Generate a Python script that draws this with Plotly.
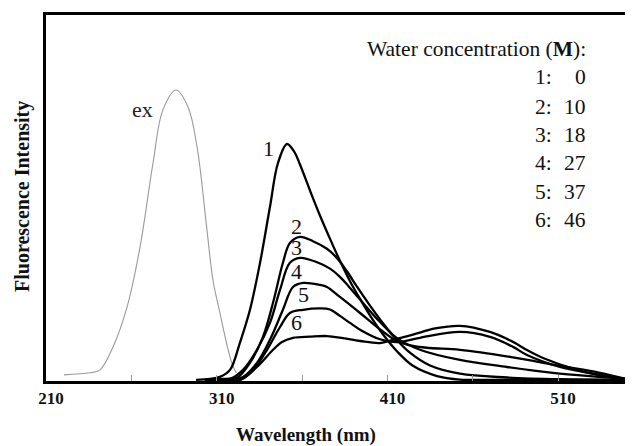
import plotly.graph_objects as go

# Excitation spectrum (gray)
ex_wl = [220.5, 235.8, 241.6, 249.3, 257.5, 265.1, 272.7, 278.5, 286.2, 293.2, 298.5, 304.3, 307.8, 311.9, 316.0, 319.0, 321.5]
ex_int = [2.4, 3.1, 4.1, 12.0, 25.7, 46.2, 75.0, 93.2, 100.0, 94.2, 80.5, 52.1, 34.9, 23.6, 12.7, 6.2, 3.0]

# Emission spectra 1-6
wl1 = [297.9, 306.1, 311.9, 317.8, 323.6, 329.5, 335.4, 341.2, 345.9, 351.2, 355.3, 358.8, 364.7, 370.5, 376.4, 382.2, 388.1, 393.9, 399.8, 407.4, 415.6, 425.0, 439.1, 452.5, 476.0, 549.8]
em1 = [0.7, 1.0, 1.7, 4.1, 13.4, 24.7, 40.8, 59.9, 75.0, 81.5, 79.0, 74.5, 65.5, 57.0, 49.0, 41.5, 34.5, 28.5, 22.8, 16.3, 10.5, 5.5, 2.0, 0.8, 0.7, 0.7]

wl2 = [303.1, 313.7, 321.9, 329.5, 337.1, 343.0, 348.8, 352.9, 358.8, 366.4, 374.6, 380.5, 386.3, 392.2, 399.0, 405.7, 413.3, 423.2, 435.0, 452.5, 480.1, 511.1, 549.8]
em2 = [0.7, 1.0, 1.4, 6.5, 15.4, 27.1, 40.8, 47.6, 49.7, 48.2, 45.6, 42.4, 37.9, 32.6, 26.8, 21.4, 15.8, 10.0, 5.6, 2.8, 1.5, 0.9, 0.7]

wl3 = [303.1, 317.8, 325.4, 333.6, 341.2, 347.1, 352.9, 358.8, 368.8, 376.4, 382.2, 388.1, 394.0, 405.7, 415.6, 429.1, 452.5, 480.1, 507.0, 534.5, 549.8]
em3 = [0.7, 1.0, 4.1, 11.0, 20.2, 31.5, 40.8, 42.5, 41.0, 38.8, 36.0, 32.2, 28.2, 20.5, 15.0, 11.0, 7.5, 5.1, 3.1, 1.7, 1.0]

wl4 = [303.1, 317.8, 325.4, 333.6, 341.2, 348.8, 354.7, 360.6, 370.5, 374.6, 382.2, 394.0, 405.7, 415.6, 425.0, 435.0, 452.5, 481.8, 511.1, 534.5, 549.8]
em4 = [0.7, 1.0, 1.7, 6.5, 14.4, 24.7, 32.5, 33.9, 33.2, 32.5, 29.1, 23.6, 18.0, 14.0, 12.3, 11.6, 11.0, 8.6, 5.5, 3.1, 1.0]

wl5 = [306.1, 323.6, 331.3, 339.5, 347.1, 352.9, 360.6, 370.5, 376.4, 382.2, 388.1, 394.0, 405.7, 415.6, 429.1, 452.5, 470.1, 483.6, 491.8, 511.1, 534.5, 549.8]
em5 = [0.7, 0.7, 4.1, 11.0, 18.8, 23.6, 24.7, 25.2, 24.8, 22.6, 20.2, 17.9, 14.6, 13.6, 15.1, 17.1, 15.4, 12.0, 9.2, 5.1, 2.4, 1.0]

wl6 = [306.1, 323.6, 333.6, 343.0, 348.0, 354.7, 364.7, 374.6, 384.0, 394.0, 405.7, 413.3, 425.0, 438.0, 452.5, 470.1, 483.6, 491.8, 501.2, 521.1, 536.3, 549.8]
em6 = [0.7, 0.7, 5.1, 11.0, 13.6, 15.1, 15.5, 15.7, 15.0, 14.0, 13.3, 14.4, 16.2, 18.3, 19.2, 17.1, 13.7, 10.9, 8.2, 4.1, 2.1, 1.0]

curve_labels = ["1", "2", "3", "4", "5", "6"]
label_wl = [340.1, 356.5, 356.5, 356.5, 361.1, 356.5]
label_int = [80.1, 53.1, 46.2, 37.7, 29.8, 20.5]

water_ids = ["1:", "2:", "3:", "4:", "5:", "6:"]
water_conc = ["0", "10", "18", "27", "37", "46"]

tick_vals = [210, 260, 310, 360, 410, 460, 510]
tick_text = ["210", "", "310", "", "410", "", "510"]

SERIF = "Liberation Serif, Times New Roman, serif"

fig = go.Figure()
fig.add_trace(go.Scatter(x=ex_wl, y=ex_int, mode="lines",
                         line=dict(color="#9a9a9a", width=1.1, shape="spline", smoothing=1.0),
                         showlegend=False, hoverinfo="skip"))
for wl, em in [(wl1, em1), (wl2, em2), (wl3, em3), (wl4, em4), (wl5, em5), (wl6, em6)]:
    fig.add_trace(go.Scatter(x=wl, y=em, mode="lines",
                             line=dict(color="black", width=2.3, shape="spline", smoothing=1.0),
                             showlegend=False, hoverinfo="skip"))

annotations = []
annotations.append(dict(x=266.8, y=93.2, text="ex", showarrow=False,
                        font=dict(family=SERIF, size=22, color="#222")))
for t, xw, yi in zip(curve_labels, label_wl, label_int):
    annotations.append(dict(x=xw, y=yi, text=t, showarrow=False,
                            font=dict(family=SERIF, size=22, color="#111")))

annotations.append(dict(x=527.5, y=114.0, text="Water concentration (<b>M</b>):", showarrow=False,
                        xanchor="right", font=dict(family=SERIF, size=21.5, color="#111")))
row_y = [104.5, 94.2, 84.6, 75.0, 65.1, 55.5]
for rid, conc, yy in zip(water_ids, water_conc, row_y):
    annotations.append(dict(x=495.3, y=yy, text=rid, showarrow=False, xanchor="left",
                            font=dict(family=SERIF, size=21.5, color="#111")))
    annotations.append(dict(x=527.5, y=yy, text=conc, showarrow=False, xanchor="right",
                            font=dict(family=SERIF, size=21.5, color="#111")))

# axis titles as paper-positioned annotations (plot area on screen: x 46..633, y 15..381 px)
annotations.append(dict(xref="paper", yref="paper", x=(306 - 46) / 587, y=(381 - 435) / 366,
                        xanchor="center", yanchor="middle",
                        text="<b>Wavelength (nm)</b>", showarrow=False,
                        font=dict(family=SERIF, size=19, color="#111")))
annotations.append(dict(xref="paper", yref="paper", x=(22 - 46) / 587, y=(381 - 197) / 366,
                        xanchor="center", yanchor="middle",
                        text="<b>Fluorescence Intensity</b>", showarrow=False, textangle=-90,
                        font=dict(family=SERIF, size=20, color="#111")))

# page body adds an 8px margin, so the figure is 8px smaller
fig.update_layout(
    width=625, height=438,
    margin=dict(l=38, r=0, t=7, b=65, autoexpand=False),
    paper_bgcolor="white", plot_bgcolor="white",
    annotations=annotations,
    xaxis=dict(range=[210, 553.9], tickvals=tick_vals, ticktext=tick_text,
               ticks="inside", ticklen=6, tickwidth=1, tickcolor="#999",
               ticklabelshift=5,
               showline=True, linecolor="black", linewidth=3, mirror=True,
               showgrid=False, zeroline=False, automargin=False,
               tickfont=dict(family=SERIF, size=17, color="#111", weight="bold")),
    yaxis=dict(range=[0.3, 125.7], showticklabels=False, ticks="",
               showline=True, linecolor="black", linewidth=3, mirror=False,
               showgrid=False, zeroline=False, automargin=False),
)

fig.write_html("out.html")
